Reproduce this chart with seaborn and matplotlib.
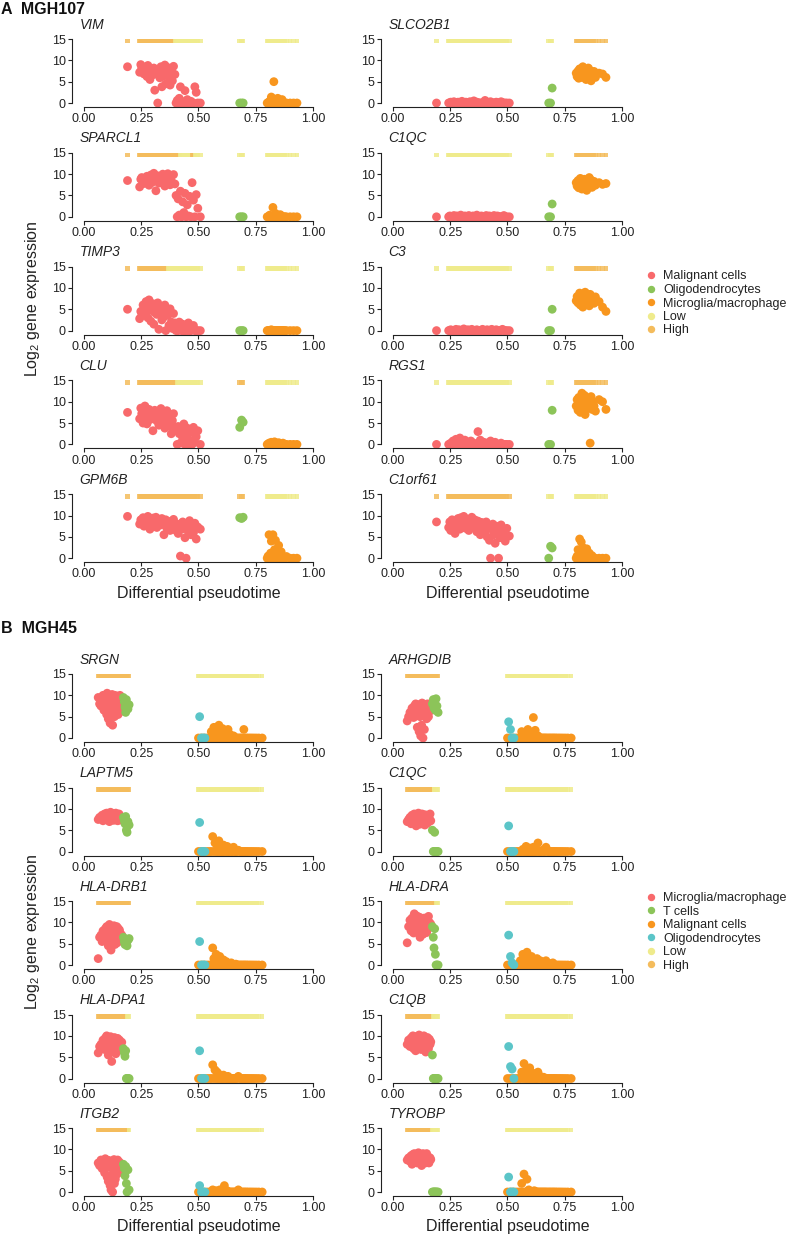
import numpy as np
import pandas as pd
import matplotlib
matplotlib.use("Agg")
import matplotlib.pyplot as plt
import seaborn as sns
from matplotlib.lines import Line2D

# ---------------- DATA : MGH107 ----------------
CT107 = ["Malignant cells", "Oligodendrocytes", "Microglia/macrophage"]
PT107_MAL = [0.190,
             0.243, 0.248, 0.252, 0.258, 0.262, 0.266, 0.271, 0.275, 0.279, 0.284,
             0.288, 0.292, 0.296, 0.301, 0.305, 0.309, 0.314, 0.318, 0.322, 0.327,
             0.331, 0.336, 0.340, 0.344, 0.349, 0.353, 0.357, 0.362, 0.366, 0.371,
             0.376, 0.381, 0.386, 0.391, 0.397,
             0.402, 0.407, 0.411, 0.416, 0.421, 0.426, 0.431, 0.436, 0.441, 0.446,
             0.451, 0.456, 0.461, 0.467, 0.472, 0.478, 0.484, 0.490, 0.497, 0.508]
PT107_OLI = [0.680, 0.688, 0.695]
PT107_MIC = [0.800, 0.804, 0.808, 0.811, 0.815, 0.818, 0.822, 0.825, 0.829, 0.832,
             0.836, 0.839, 0.843, 0.846, 0.850, 0.853, 0.857, 0.861, 0.865, 0.869,
             0.873, 0.878, 0.884, 0.900, 0.915, 0.930]

# expression: malignant(56) + oligodendrocytes(3) + microglia(26)
VIM = [8.5,
       7.2, 9.0, 8.1, 7.5, 6.8, 8.4, 7.9, 6.2, 8.8, 7.0,
       5.5, 8.0, 7.4, 6.6, 8.2, 3.0, 7.8, 6.9, 0.0, 7.1,
       5.9, 8.5, 3.8, 7.6, 6.4, 8.9, 4.5, 7.3, 8.3, 6.0,
       4.2, 7.7, 5.2, 8.6, 6.7,
       0.0, 0.6, 0.0, 1.1, 3.8, 0.0, 0.3, 0.0, 2.9, 0.0,
       0.8, 0.0, 0.0, 0.4, 0.0, 0.0, 3.8, 2.5, 0.0, 0.0,
       0.0, 0.0, 0.0,
       0.0, 0.0, 0.3, 0.0, 0.0, 1.4, 0.0, 0.0, 5.0, 0.0,
       0.6, 0.0, 0.0, 1.1, 0.0, 0.2, 0.0, 0.0, 0.8, 0.0,
       0.0, 0.0, 0.0, 0.0, 0.0, 0.0]
SPARCL1 = [8.5,
           7.0, 8.8, 9.2, 8.5, 7.8, 9.0, 8.2, 9.5, 8.7, 7.4,
           8.9, 9.8, 8.0, 8.6, 10.2, 9.1, 6.1, 8.4, 9.6, 7.9,
           8.8, 9.3, 8.1, 10.0, 8.5, 7.2, 9.7, 8.9, 10.1, 8.3,
           7.5, 9.4, 8.0, 9.9, 7.7,
           5.0, 0.0, 4.2, 0.4, 6.0, 0.0, 3.5, 1.0, 5.5, 0.0,
           2.8, 0.2, 4.8, 0.0, 8.0, 3.9, 0.0, 5.2, 2.0, 0.0,
           0.0, 0.0, 0.0,
           0.0, 0.0, 0.0, 0.4, 0.0, 0.0, 0.0, 2.2, 0.0, 0.0,
           0.8, 0.0, 0.3, 0.0, 0.0, 0.0, 0.5, 0.0, 0.0, 0.0,
           0.0, 0.0, 0.0, 0.0, 0.0, 0.0]
TIMP3 = [5.0,
         2.8, 4.5, 3.5, 6.0, 5.2, 4.0, 6.8, 5.5, 3.0, 7.2,
         4.8, 2.2, 5.8, 6.3, 1.5, 4.2, 5.0, 3.8, 6.5, 0.3,
         5.3, 4.0, 2.5, 4.7, 3.2, 6.0, 0.0, 4.4, 3.6, 1.2,
         5.1, 2.0, 0.5, 4.0, 1.8,
         0.0, 1.0, 0.0, 2.0, 0.4, 0.0, 1.5, 0.0, 0.0, 0.8,
         0.0, 1.8, 0.0, 0.0, 0.3, 1.2, 0.0, 0.0, 0.0, 0.0,
         0.0, 0.0, 0.0,
         0.0, 0.0, 0.0, 0.0, 0.0, 0.2, 0.0, 0.0, 0.0, 0.0,
         0.0, 0.0, 0.0, 0.0, 0.0, 0.0, 0.0, 0.0, 0.0, 0.0,
         0.0, 0.0, 0.0, 0.0, 0.0, 0.0]
CLU = [7.5,
       6.0, 8.5, 7.2, 5.0, 7.8, 9.0, 6.5, 4.8, 7.0, 8.2,
       5.8, 6.8, 7.5, 3.2, 6.2, 8.0, 7.3, 5.5, 6.9, 4.5,
       7.6, 8.4, 6.1, 5.2, 7.1, 3.8, 6.6, 7.9, 5.9, 4.3,
       6.4, 2.5, 5.6, 7.2, 4.0,
       3.5, 0.0, 4.2, 2.5, 0.3, 3.0, 1.5, 4.8, 0.0, 2.2,
       3.8, 0.0, 1.0, 2.8, 0.0, 4.0, 0.5, 1.8, 3.2, 0.0,
       4.0, 5.7, 5.2,
       0.0, 0.0, 0.3, 0.0, 0.0, 0.5, 0.0, 0.0, 0.0, 0.6,
       0.0, 0.0, 0.2, 0.0, 0.4, 0.0, 0.0, 0.0, 0.0, 0.3,
       0.0, 0.0, 0.0, 0.0, 0.0, 0.0]
GPM6B = [9.8,
         8.0, 9.0, 8.5, 9.5, 7.5, 8.8, 9.2, 8.3, 9.8, 8.7,
         6.8, 9.1, 8.6, 9.4, 8.0, 8.9, 9.6, 7.2, 8.4, 9.0,
         8.2, 7.8, 9.3, 8.5, 5.5, 8.8, 9.0, 7.0, 8.0, 8.6,
         6.5, 7.5, 8.2, 9.1, 7.8,
         6.5, 8.0, 5.8, 7.2, 0.5, 6.8, 8.5, 7.0, 4.8, 0.0,
         7.5, 6.2, 8.8, 5.5, 7.0, 6.0, 8.2, 4.5, 7.3, 6.8,
         9.5, 9.3, 9.6,
         0.0, 0.5, 5.5, 0.0, 1.2, 4.0, 0.0, 5.5, 0.3, 2.0,
         4.2, 0.0, 0.8, 0.0, 3.0, 0.5, 0.0, 1.5, 0.0, 0.3,
         0.0, 0.0, 0.4, 0.0, 0.0, 0.0]
SLCO2B1 = [0.0,
           0.0, 0.0, 0.2, 0.0, 0.0, 0.3, 0.0, 0.0, 0.0, 0.2,
           0.0, 0.0, 0.0, 0.4, 0.0, 0.0, 0.0, 0.2, 0.0, 0.0,
           0.0, 0.3, 0.0, 0.0, 0.0, 0.5, 0.0, 0.0, 0.2, 0.0,
           0.0, 0.0, 0.0, 0.0, 0.0,
           0.6, 0.0, 0.2, 0.0, 0.0, 0.3, 0.0, 0.0, 0.0, 0.0,
           0.2, 0.0, 0.0, 0.0, 0.3, 0.0, 0.0, 0.0, 0.0, 0.0,
           0.0, 0.0, 3.5,
           7.0, 6.2, 7.5, 5.8, 8.0, 6.8, 7.3, 6.0, 8.5, 7.0,
           6.5, 7.8, 5.5, 7.2, 6.9, 8.2, 6.3, 7.6, 5.2, 7.0,
           6.6, 7.4, 6.0, 7.0, 6.8, 6.0]
C1QC_107 = [0.0,
            0.0, 0.2, 0.0, 0.0, 0.0, 0.3, 0.0, 0.0, 0.2, 0.0,
            0.0, 0.0, 0.4, 0.0, 0.0, 0.0, 0.2, 0.0, 0.0, 0.0,
            0.3, 0.0, 0.0, 0.0, 0.2, 0.0, 0.0, 0.0, 0.4, 0.0,
            0.0, 0.0, 0.2, 0.0, 0.0,
            0.0, 0.3, 0.0, 0.0, 0.2, 0.0, 0.0, 0.0, 0.3, 0.0,
            0.0, 0.2, 0.0, 0.0, 0.0, 0.0, 0.3, 0.0, 0.0, 0.0,
            0.0, 0.0, 3.0,
            8.0, 7.2, 8.5, 6.8, 7.8, 9.0, 7.5, 6.5, 8.2, 7.9,
            8.8, 7.0, 8.4, 6.2, 7.6, 8.1, 9.2, 7.3, 8.6, 6.9,
            7.7, 8.3, 7.4, 8.0, 7.6, 7.8]
C3 = [0.0,
      0.0, 0.0, 0.2, 0.0, 0.0, 0.0, 0.0, 0.3, 0.0, 0.0,
      0.2, 0.0, 0.0, 0.0, 0.0, 0.4, 0.0, 0.0, 0.0, 0.2,
      0.0, 0.0, 0.0, 0.3, 0.0, 0.0, 0.0, 0.0, 0.2, 0.0,
      0.0, 0.0, 0.0, 0.3, 0.0,
      0.0, 0.0, 0.2, 0.0, 0.0, 0.0, 0.3, 0.0, 0.0, 0.0,
      0.2, 0.0, 0.0, 0.0, 0.0, 0.3, 0.0, 0.0, 0.0, 0.0,
      0.0, 0.0, 5.0,
      7.0, 8.0, 6.5, 7.5, 8.8, 6.0, 7.2, 8.3, 5.5, 7.8,
      6.8, 9.0, 7.4, 6.2, 8.1, 7.0, 5.8, 8.5, 6.6, 7.6,
      7.1, 6.4, 7.9, 6.8, 5.5, 4.5]
RGS1 = [0.0,
        0.0, 0.0, 0.3, 0.0, 0.8, 0.0, 0.0, 1.2, 0.0, 0.5,
        0.0, 1.5, 0.0, 0.0, 0.6, 0.0, 1.0, 0.0, 0.0, 0.4,
        0.0, 0.0, 0.8, 0.0, 0.0, 0.3, 0.0, 0.0, 0.0, 3.0,
        0.0, 1.0, 0.0, 0.0, 0.5,
        0.0, 0.0, 0.3, 0.0, 0.0, 0.8, 0.0, 0.0, 0.0, 0.5,
        0.0, 0.0, 0.0, 0.0, 0.3, 0.0, 0.0, 0.0, 0.0, 0.0,
        0.0, 0.0, 8.0,
        9.0, 10.5, 8.0, 11.0, 9.5, 7.5, 10.0, 12.0, 8.8, 9.8,
        11.5, 7.0, 10.2, 9.2, 8.5, 10.8, 9.6, 0.3, 11.2, 8.2,
        10.0, 9.0, 7.8, 10.5, 10.0, 8.2]
C1orf61 = [8.5,
           7.2, 8.5, 6.5, 9.0, 7.8, 8.2, 5.8, 8.8, 7.5, 9.3,
           8.0, 6.8, 9.5, 8.4, 7.2, 9.8, 8.6, 7.0, 9.2, 8.1,
           6.5, 8.9, 7.7, 9.6, 8.3, 7.4, 9.0, 8.0, 6.2, 8.7,
           7.9, 5.5, 8.4, 6.8, 7.6,
           6.0, 8.5, 5.0, 7.2, 4.2, 0.0, 6.8, 8.0, 5.5, 3.5,
           7.5, 6.2, 0.0, 4.8, 7.8, 5.8, 6.5, 4.0, 7.0, 5.2,
           0.0, 2.8, 2.4,
           0.0, 0.5, 2.0, 0.0, 4.5, 1.0, 3.8, 0.3, 2.5, 0.0,
           1.5, 0.0, 0.8, 2.2, 0.0, 0.4, 1.2, 0.0, 0.0, 0.6,
           0.0, 0.0, 0.0, 0.0, 0.0, 0.0]

GENES107_LEFT = ["VIM", "SPARCL1", "TIMP3", "CLU", "GPM6B"]
GENES107_RIGHT = ["SLCO2B1", "C1QC", "C3", "RGS1", "C1orf61"]
EXPR107 = {"VIM": VIM, "SPARCL1": SPARCL1, "TIMP3": TIMP3, "CLU": CLU, "GPM6B": GPM6B,
           "SLCO2B1": SLCO2B1, "C1QC": C1QC_107, "C3": C3, "RGS1": RGS1, "C1orf61": C1orf61}

# ---------------- DATA : MGH45 ----------------
CT45 = ["Microglia/macrophage", "T cells", "Malignant cells", "Oligodendrocytes"]
PT45_MIC = [0.062, 0.068, 0.074, 0.079, 0.083, 0.087, 0.090, 0.093, 0.096, 0.099,
            0.101, 0.104, 0.106, 0.109, 0.111, 0.114, 0.116, 0.118, 0.121, 0.123,
            0.125, 0.127, 0.129, 0.131, 0.133, 0.135, 0.137, 0.139, 0.141, 0.143,
            0.145, 0.147, 0.149, 0.151, 0.153, 0.155, 0.157, 0.159, 0.162, 0.165]
PT45_TC = [0.172, 0.176, 0.179, 0.182, 0.185, 0.188, 0.192, 0.197]
PT45_OLI = [0.505, 0.513, 0.520, 0.528]
PT45_MAL = [0.500, 0.512, 0.525, 0.538, 0.548, 0.556, 0.562, 0.567, 0.572, 0.577,
            0.581, 0.585, 0.589, 0.593, 0.597, 0.601, 0.605, 0.609, 0.613, 0.617,
            0.621, 0.625, 0.629, 0.633, 0.638, 0.643, 0.648, 0.653, 0.658, 0.663,
            0.668, 0.674, 0.680, 0.686, 0.692, 0.698, 0.704, 0.710, 0.717, 0.725,
            0.733, 0.742, 0.752, 0.763, 0.778]

# expression: microglia(40) + T cells(8) + oligodendrocytes(4) + malignant(45)
SRGN = [9.5, 8.0, 7.5, 9.0, 10.0, 6.5, 8.5, 9.8, 7.8, 5.5,
        10.5, 8.8, 4.5, 9.2, 7.0, 3.5, 9.6, 8.2, 6.0, 10.2,
        3.0, 8.6, 9.4, 7.2, 5.0, 10.0, 8.4, 9.0, 6.8, 7.6,
        9.8, 8.0, 5.5, 9.2, 7.4, 8.8, 10.0, 6.2, 9.0, 8.5,
        9.5, 8.5, 7.2, 6.0, 9.0, 8.0, 6.8, 7.8,
        5.0, 0.0, 0.0, 0.0,
        0.0, 0.0, 0.0, 0.0, 0.0, 1.5, 0.0, 2.5, 0.5, 0.0,
        1.8, 0.0, 3.0, 0.0, 1.0, 0.0, 2.2, 0.0, 0.3, 1.2,
        0.0, 0.0, 2.0, 0.0, 0.8, 0.0, 0.0, 0.5, 0.0, 0.0,
        0.0, 0.0, 0.0, 0.0, 0.0, 2.0, 0.0, 0.0, 0.0, 0.0,
        0.0, 0.0, 0.0, 0.0, 0.0]
ARHGDIB = [4.0, 5.0, 6.0, 5.5, 7.0, 6.5, 4.8, 7.5, 6.0, 8.0,
           5.2, 7.2, 2.5, 6.8, 7.8, 1.5, 6.2, 5.0, 0.5, 7.0,
           3.0, 8.2, 6.5, 0.0, 5.8, 7.4, 2.0, 6.0, 7.8, 5.5,
           6.8, 4.5, 7.2, 8.0, 6.2, 5.0, 7.6, 6.8, 7.0, 6.4,
           8.0, 9.0, 7.0, 8.5, 6.5, 9.2, 7.5, 6.0,
           3.8, 2.0, 0.0, 0.0,
           0.0, 0.0, 0.0, 0.0, 0.0, 0.0, 1.5, 0.0, 0.0, 0.5,
           0.0, 0.0, 2.0, 0.0, 0.0, 1.0, 0.0, 0.0, 4.8, 0.0,
           1.8, 0.0, 0.0, 0.5, 0.0, 0.0, 0.0, 0.0, 0.0, 0.0,
           0.0, 0.0, 0.0, 0.0, 0.0, 0.0, 0.0, 0.0, 0.0, 0.0,
           0.0, 0.0, 0.0, 0.0, 0.0]
LAPTM5 = [7.5, 8.0, 7.8, 8.5, 7.2, 8.2, 8.8, 7.6, 8.0, 9.0,
          7.4, 8.4, 7.9, 8.6, 7.0, 8.2, 9.2, 7.8, 8.0, 8.5,
          7.6, 8.9, 7.3, 8.1, 8.7, 7.7, 8.3, 9.0, 7.5, 8.0,
          8.6, 7.2, 8.4, 7.9, 8.8, 7.6, 8.2, 7.4, 8.0, 7.8,
          8.0, 7.2, 6.5, 8.2, 5.0, 4.5, 7.0, 6.2,
          6.8, 0.0, 0.0, 0.0,
          0.0, 0.0, 0.0, 0.0, 0.0, 0.0, 3.5, 0.0, 2.0, 0.0,
          1.5, 0.0, 2.5, 0.0, 1.0, 0.0, 0.0, 1.5, 0.0, 0.5,
          0.0, 1.2, 0.0, 0.0, 0.8, 0.0, 0.0, 1.0, 0.0, 0.0,
          0.0, 0.3, 0.0, 0.0, 0.0, 0.0, 0.0, 0.0, 0.0, 0.0,
          0.0, 0.0, 0.0, 0.0, 0.0]
HLA_DRB1 = [1.5, 6.5, 7.0, 5.5, 8.0, 7.5, 6.0, 8.5, 7.2, 9.0,
            6.8, 7.8, 4.5, 8.2, 9.5, 6.2, 7.6, 3.5, 8.8, 7.0,
            5.8, 8.4, 6.6, 9.2, 7.4, 4.8, 8.0, 6.4, 7.8, 9.0,
            5.2, 7.2, 8.6, 6.0, 7.6, 8.2, 6.8, 7.4, 5.8, 7.0,
            6.5, 5.5, 4.8, 6.0, 5.2, 4.5, 5.8, 6.2,
            5.5, 0.0, 0.0, 0.0,
            0.0, 0.0, 0.0, 0.0, 0.0, 0.0, 4.0, 1.5, 0.0, 2.5,
            0.0, 1.0, 0.0, 2.0, 0.0, 0.5, 0.0, 1.2, 0.0, 0.0,
            0.8, 0.0, 0.3, 0.0, 0.0, 0.5, 0.0, 0.0, 0.0, 0.2,
            0.0, 0.0, 0.0, 0.0, 0.0, 0.0, 0.0, 0.0, 0.0, 0.0,
            0.0, 0.0, 0.0, 0.0, 0.0]
HLA_DPA1 = [6.0, 7.5, 8.0, 7.0, 9.0, 8.5, 6.8, 9.5, 7.8, 10.0,
            7.2, 8.8, 5.5, 9.2, 8.0, 6.5, 9.8, 7.6, 4.0, 8.4,
            7.0, 9.0, 8.2, 6.2, 9.6, 7.4, 8.6, 5.8, 9.2, 7.8,
            8.0, 9.4, 6.6, 8.8, 7.2, 9.0, 8.2, 7.6, 6.8, 8.5,
            7.0, 6.0, 5.2, 6.5, 0.0, 0.0, 0.0, 0.0,
            6.5, 0.0, 0.0, 0.0,
            0.0, 0.0, 0.0, 0.0, 0.0, 0.0, 3.2, 0.0, 2.0, 0.0,
            1.5, 0.0, 1.0, 0.0, 0.5, 0.0, 0.0, 0.8, 0.0, 0.3,
            0.0, 0.0, 0.5, 0.0, 0.0, 0.0, 0.0, 0.0, 0.0, 0.0,
            0.0, 0.5, 0.0, 0.0, 0.0, 0.0, 0.0, 0.0, 0.0, 0.0,
            0.0, 0.0, 0.0, 0.0, 0.0]
ITGB2 = [6.8, 6.2, 7.5, 5.5, 7.0, 6.5, 4.5, 7.8, 6.0, 7.2,
         3.5, 6.8, 2.5, 7.4, 5.8, 1.5, 6.6, 0.5, 7.0, 4.0,
         0.0, 6.2, 5.0, 7.6, 2.0, 6.4, 3.0, 7.2, 5.5, 6.8,
         4.2, 7.5, 6.0, 5.2, 6.6, 7.0, 4.8, 6.2, 5.6, 6.0,
         6.5, 5.5, 3.8, 6.0, 2.0, 0.0, 5.2, 0.5,
         1.5, 0.0, 0.0, 0.0,
         0.0, 0.0, 0.0, 0.0, 0.0, 0.0, 0.5, 0.0, 0.0, 0.3,
         0.0, 0.0, 0.0, 0.5, 0.0, 0.0, 0.0, 0.0, 1.5, 0.0,
         0.0, 0.3, 0.0, 0.0, 0.0, 0.0, 0.0, 0.0, 0.0, 0.0,
         0.0, 0.5, 0.0, 0.0, 0.0, 0.0, 0.0, 0.0, 0.0, 0.0,
         0.0, 0.0, 0.0, 0.0, 0.0]
C1QC_45 = [7.0, 7.5, 8.0, 6.5, 8.5, 7.8, 6.8, 8.8, 7.2, 8.0,
           6.0, 8.4, 7.6, 8.2, 9.0, 7.0, 8.6, 6.4, 7.8, 8.2,
           7.4, 8.8, 6.8, 7.6, 8.4, 7.0, 8.0, 6.2, 8.6, 7.2,
           7.8, 8.4, 6.6, 8.0, 7.4, 8.2, 7.0, 7.6, 8.8, 7.2,
           5.0, 0.0, 0.0, 4.5, 0.0, 0.0, 0.0, 0.0,
           6.0, 0.0, 0.0, 0.0,
           0.0, 0.0, 0.0, 0.0, 0.0, 0.0, 0.0, 0.5, 0.0, 0.0,
           1.2, 0.0, 0.0, 0.0, 0.8, 0.0, 0.0, 0.0, 1.0, 0.0,
           0.0, 0.5, 0.0, 2.0, 0.0, 0.0, 0.0, 0.3, 0.0, 0.0,
           1.0, 0.0, 0.0, 0.0, 0.0, 0.0, 0.0, 0.0, 0.0, 0.0,
           0.0, 0.0, 0.0, 0.0, 0.0]
HLA_DRA = [5.2, 9.0, 10.5, 8.0, 11.0, 9.5, 7.5, 12.0, 8.5, 10.0,
           9.2, 11.5, 7.8, 10.2, 8.8, 9.6, 11.2, 6.5, 10.6, 9.0,
           8.2, 10.8, 9.4, 7.2, 10.0, 8.6, 11.0, 9.8, 8.0, 10.4,
           9.0, 7.6, 10.2, 8.4, 9.6, 11.4, 8.8, 10.0, 9.2, 9.6,
           9.0, 6.5, 4.0, 8.5, 2.5, 0.0, 0.0, 0.0,
           7.0, 2.0, 0.5, 0.0,
           0.0, 0.0, 0.0, 0.0, 0.0, 1.0, 0.0, 2.5, 0.0, 1.5,
           0.0, 3.0, 0.0, 1.8, 0.5, 0.0, 2.0, 0.0, 1.2, 0.0,
           0.8, 0.0, 1.5, 0.0, 0.0, 1.0, 0.0, 0.5, 0.0, 0.0,
           1.0, 0.0, 0.0, 0.3, 0.0, 0.5, 0.0, 0.0, 0.0, 0.0,
           0.0, 0.0, 0.0, 0.0, 0.0]
C1QB = [8.0, 9.0, 7.5, 9.5, 8.5, 10.0, 7.0, 9.2, 8.8, 6.5,
        9.8, 8.2, 7.8, 9.4, 8.6, 10.2, 7.2, 9.0, 8.0, 6.8,
        9.6, 8.4, 7.6, 9.2, 8.8, 10.0, 7.4, 8.6, 9.4, 6.2,
        8.2, 9.0, 7.8, 9.6, 8.4, 7.0, 8.8, 9.2, 8.0, 8.6,
        5.5, 0.0, 0.0, 0.0, 0.0, 0.0, 0.0, 0.0,
        7.5, 2.8, 2.2, 0.0,
        0.0, 0.0, 0.0, 0.0, 0.0, 0.0, 1.5, 0.0, 3.5, 0.0,
        2.0, 0.0, 1.0, 0.0, 2.5, 0.0, 0.5, 0.0, 1.2, 0.0,
        0.8, 0.0, 0.0, 1.5, 0.0, 0.5, 0.0, 0.0, 0.3, 0.0,
        0.0, 0.0, 0.0, 0.0, 0.0, 0.0, 0.0, 0.0, 0.0, 0.0,
        0.0, 0.0, 0.0, 0.0, 0.0]
TYROBP = [7.5, 8.0, 7.2, 8.5, 6.5, 8.8, 7.8, 9.0, 7.0, 8.2,
          7.6, 8.6, 6.8, 8.0, 9.2, 7.4, 8.4, 7.0, 8.8, 7.8,
          6.2, 8.2, 7.6, 9.0, 7.2, 8.0, 8.6, 7.4, 6.8, 8.4,
          7.8, 9.0, 7.2, 8.0, 7.6, 8.2, 6.8, 7.4, 8.0, 7.6,
          0.0, 0.0, 0.0, 0.0, 0.0, 0.0, 0.0, 0.0,
          3.5, 0.0, 0.0, 0.0,
          0.0, 0.0, 0.0, 0.0, 0.0, 0.0, 2.0, 0.0, 4.2, 0.0,
          0.0, 3.0, 0.0, 0.5, 0.0, 0.0, 0.0, 0.0, 0.0, 0.3,
          0.0, 0.0, 0.0, 0.0, 0.0, 0.0, 0.0, 0.0, 0.0, 0.0,
          0.0, 0.0, 0.0, 0.0, 0.0, 0.0, 0.0, 0.0, 0.0, 0.0,
          0.0, 0.0, 0.0, 0.0, 0.0]

GENES45_LEFT = ["SRGN", "LAPTM5", "HLA-DRB1", "HLA-DPA1", "ITGB2"]
GENES45_RIGHT = ["ARHGDIB", "C1QC", "HLA-DRA", "C1QB", "TYROBP"]
EXPR45 = {"SRGN": SRGN, "ARHGDIB": ARHGDIB, "LAPTM5": LAPTM5, "HLA-DRB1": HLA_DRB1,
          "HLA-DPA1": HLA_DPA1, "ITGB2": ITGB2, "C1QC": C1QC_45, "HLA-DRA": HLA_DRA,
          "C1QB": C1QB, "TYROBP": TYROBP}

XTICKS = [0.0, 0.25, 0.5, 0.75, 1.0]
XTICKLABELS = ["0.00", "0.25", "0.50", "0.75", "1.00"]
YTICKS = [0, 5, 10, 15]

# ---------------- STYLE ----------------
RED, GREEN, ORANGE, TEAL = "#F8696B", "#8CC459", "#F8961E", "#5BC5C8"
LOW, HIGH = "#EFEB8C", "#F4BC5C"
PAL107 = {"Malignant cells": RED, "Oligodendrocytes": GREEN, "Microglia/macrophage": ORANGE}
PAL45 = {"Microglia/macrophage": RED, "T cells": GREEN, "Malignant cells": ORANGE,
         "Oligodendrocytes": TEAL}
RUG_PAL = {"Low": LOW, "High": HIGH}

sns.set_theme(style="ticks")
plt.rcParams["font.family"] = ["Liberation Sans", "DejaVu Sans"]
plt.rcParams["mathtext.fontset"] = "custom"
plt.rcParams["mathtext.rm"] = "Liberation Sans"
plt.rcParams["mathtext.it"] = "Liberation Sans:italic"
INK = "#222222"

W, H = 787, 1236
fig = plt.figure(figsize=(W / 100, H / 100), dpi=100)

PXU = 229.0          # px per pseudotime unit
PYU = 64.0 / 15.0    # px per expression unit
XL = (-0.02, 1.02)
YL = (-0.5, 15.5)


def add_ax(x0, y0):
    left = x0 + XL[0] * PXU
    width = (XL[1] - XL[0]) * PXU
    top = y0 - YL[1] * PYU
    height = (YL[1] - YL[0]) * PYU
    return fig.add_axes([left / W, 1 - (top + height) / H, width / W, height / H])


def make_df(pt_groups, types, expr, order):
    pts, cts = [], []
    for g, t in zip(pt_groups, types):
        pts += list(g)
        cts += [t] * len(g)
    df = pd.DataFrame({"pt": pts, "type": cts, "expr": list(expr)})
    p = df["pt"].to_numpy()
    e = df["expr"].to_numpy()
    med = np.array([np.median(e[np.abs(p - x) <= 0.02]) for x in p])
    df["level"] = np.where(med > 3.5, "High", "Low")
    df["rug"] = 14.5
    df["rank"] = df["type"].map({t: i for i, t in enumerate(order)})
    return df.sort_values("rank", kind="stable")


def panel(ax, df, palette, gene):
    sns.scatterplot(data=df, x="pt", y="rug", hue="level", palette=RUG_PAL, marker="s",
                    s=11, linewidth=0, alpha=0.85, legend=False, ax=ax, clip_on=False)
    sns.scatterplot(data=df, x="pt", y="expr", hue="type", palette=palette, s=40,
                    linewidth=0, legend=False, ax=ax, clip_on=False)
    ax.set_xlim(*XL)
    ax.set_ylim(*YL)
    ax.set_xticks(XTICKS)
    ax.set_xticklabels(XTICKLABELS)
    ax.set_yticks(YTICKS)
    ax.set_xlabel("")
    ax.set_ylabel("")
    ax.tick_params(axis="both", labelsize=9, length=3, width=0.8, colors=INK, pad=1.5)
    for s in ax.spines.values():
        s.set_color(INK)
        s.set_linewidth(0.8)
    sns.despine(ax=ax, offset={"left": 5.3, "bottom": 1.35}, trim=True)
    ax.annotate(gene, xy=(0, 1), xycoords="axes fraction", xytext=(0, 6),
                textcoords="offset points", ha="left", va="baseline",
                style="italic", fontsize=10, color=INK)


def legend(labels, colors, cy):
    handles = [Line2D([], [], marker="o", ls="", color=c, markersize=4.3, label=l)
               for l, c in zip(labels, colors)]
    fig.legend(handles=handles, loc="center left", bbox_to_anchor=(646 / W, 1 - cy / H),
               frameon=False, fontsize=9, handlelength=0.8, handletextpad=0.55,
               labelspacing=0.12, borderpad=0, borderaxespad=0, labelcolor=INK)


COLX = [84, 393]

# Panel A
for col, genes in enumerate([GENES107_LEFT, GENES107_RIGHT]):
    for i, g in enumerate(genes):
        ax = add_ax(COLX[col], 103 + 113.8 * i)
        df = make_df([PT107_MAL, PT107_OLI, PT107_MIC], CT107, EXPR107[g], CT107)
        panel(ax, df, PAL107, g)

# Panel B
for col, genes in enumerate([GENES45_LEFT, GENES45_RIGHT]):
    for i, g in enumerate(genes):
        ax = add_ax(COLX[col], 738 + 113.5 * i)
        df = make_df([PT45_MIC, PT45_TC, PT45_OLI, PT45_MAL],
                     ["Microglia/macrophage", "T cells", "Oligodendrocytes", "Malignant cells"],
                     EXPR45[g], ["Microglia/macrophage", "T cells", "Malignant cells", "Oligodendrocytes"])
        panel(ax, df, PAL45, g)

# texts
fig.text(1 / W, 1 - 14 / H, "A  MGH107", fontsize=11.5, weight="bold", va="baseline", color="#111111")
fig.text(1 / W, 1 - 633 / H, "B  MGH45", fontsize=11.5, weight="bold", va="baseline", color="#111111")
for cx in [COLX[0] + 0.5 * PXU, COLX[1] + 0.5 * PXU]:
    fig.text(cx / W, 1 - 598 / H, "Differential pseudotime", fontsize=11.5, ha="center",
             va="baseline", color=INK)
    fig.text(cx / W, 1 - 1231 / H, "Differential pseudotime", fontsize=11.5, ha="center",
             va="baseline", color=INK)
fig.text(33 / W, 1 - 299 / H, "Log$_2$ gene expression", rotation=90, fontsize=11.5,
         ha="center", va="center", color=INK)
fig.text(33 / W, 1 - 932 / H, "Log$_2$ gene expression", rotation=90, fontsize=11.5,
         ha="center", va="center", color=INK)

legend(["Malignant cells", "Oligodendrocytes", "Microglia/macrophage", "Low", "High"],
       [RED, GREEN, ORANGE, LOW, HIGH], 303.5)
legend(["Microglia/macrophage", "T cells", "Malignant cells", "Oligodendrocytes", "Low", "High"],
       [RED, GREEN, ORANGE, TEAL, LOW, HIGH], 932)

fig.savefig("out.png", dpi=100)
